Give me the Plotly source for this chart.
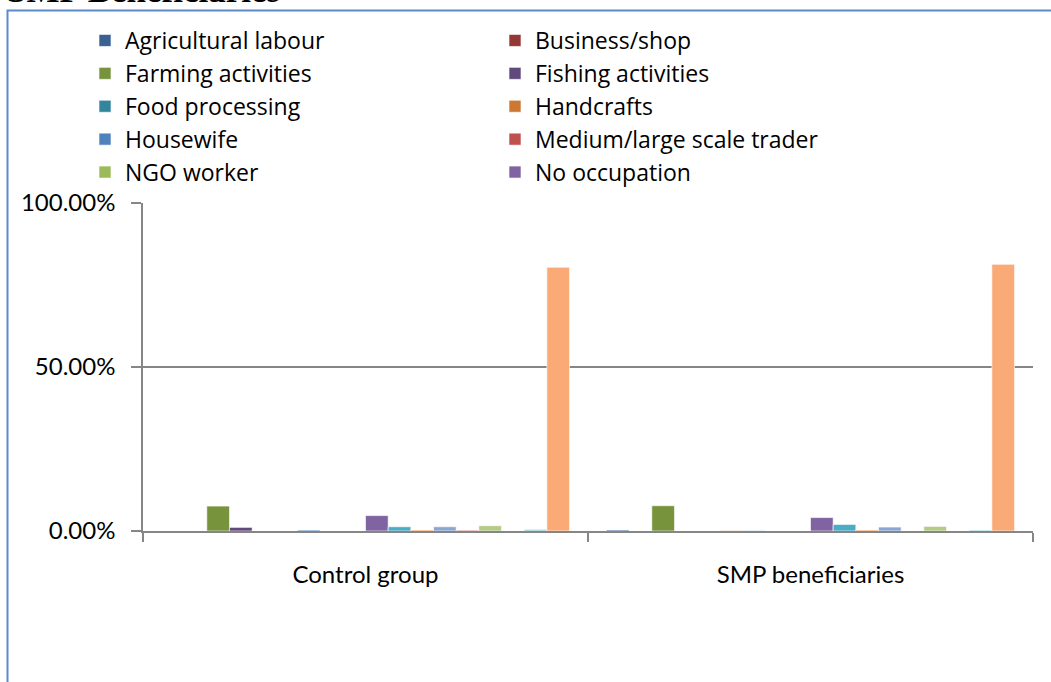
import plotly.graph_objects as go

categories = ["Control group", "SMP beneficiaries"]

series_names = [
    "Agricultural labour", "Business/shop", "Farming activities", "Fishing activities",
    "Food processing", "Handcrafts", "Housewife", "Medium/large scale trader",
    "NGO worker", "No occupation", "Petty trade", "Salaried employment",
    "Skilled labour", "Small scale trader", "Student", "Tailoring",
    "Unemployed", "Subsistence farming",
]

control_group = [0.0, 0.0, 7.6, 1.1, 0.0, 0.0, 0.3, 0.0, 0.0, 4.7,
                 1.3, 0.3, 1.3, 0.3, 1.6, 0.0, 0.5, 80.4]
smp_beneficiaries = [0.3, 0.0, 7.7, 0.0, 0.0, 0.1, 0.1, 0.0, 0.0, 4.1,
                     2.0, 0.3, 1.2, 0.0, 1.4, 0.0, 0.3, 81.3]

colors = [
    "#3B6192", "#953735", "#77933C", "#604A7B", "#31859C", "#CC7833",
    "#4F81BD", "#C0504D", "#9BBB59", "#8064A2", "#4BACC6", "#F79646",
    "#8AA7D4", "#D99694", "#B3CB85", "#B3A2C7", "#93CDDD", "#F9AA77",
]

FONT = "Lato, Carlito, Calibri, sans-serif"
LEG_FONT = "Open Sans, Lato, sans-serif"
GRID = "#868686"

fig = go.Figure()
for i, name in enumerate(series_names):
    fig.add_trace(go.Bar(
        x=categories,
        y=[control_group[i] / 100, smp_beneficiaries[i] / 100],
        name=name,
        marker=dict(color=colors[i], line=dict(color="rgba(255,255,255,0.6)", width=1)),
        showlegend=i < 10,
    ))

# plot area in px: x 143..1033, y 203..531
def px_x(p):
    return (p - 143) / 890.0

def px_y(p):
    return (531 - p) / 328.0

fig.update_layout(
    width=1051, height=682,
    margin=dict(l=143, r=18, t=203, b=151, autoexpand=False),
    paper_bgcolor="white", plot_bgcolor="white",
    barmode="group", bargap=0.083, bargroupgap=0,
    font=dict(family=FONT, size=24, color="black"),
    legend=dict(
        orientation="h", x=px_x(85), xanchor="left", y=px_y(19), yanchor="top",
        entrywidth=365, font=dict(family=LEG_FONT, size=23, color="black"),
        traceorder="normal", itemclick=False, bgcolor="rgba(0,0,0,0)",
        tracegroupgap=0,
    ),
    xaxis=dict(
        type="category", showline=True, linecolor=GRID, linewidth=1.5,
        ticks="outside", tickson="boundaries", ticklen=9, tickcolor=GRID, tickwidth=1.5,
        tickfont=dict(family=FONT, size=24, color="black"), ticklabelstandoff=21,
        showgrid=False, zeroline=False,
    ),
    yaxis=dict(
        range=[0, 1], tickvals=[0, 0.5, 1], tickformat=".2%",
        showline=True, linecolor=GRID, linewidth=1.5,
        ticks="outside", ticklen=10, tickcolor=GRID, tickwidth=1.5,
        tickfont=dict(family=FONT, size=24, color="black"), ticklabelstandoff=11,
        showgrid=True, gridcolor=GRID, gridwidth=1.5, zeroline=False,
    ),
    shapes=[dict(
        type="rect", xref="paper", yref="paper",
        x0=px_x(7.5), x1=px_x(1100), y0=px_y(10.5), y1=px_y(760),
        line=dict(color="#5B8BC9", width=2), fillcolor="rgba(0,0,0,0)", layer="below",
    )],
    annotations=[dict(
        text="<b>SMP Beneficiaries</b>", xref="paper", yref="paper",
        x=px_x(5), xanchor="left", y=px_y(12), yanchor="bottom", showarrow=False,
        font=dict(family="Liberation Serif, Times New Roman, serif", size=35, color="black"),
    )],
)

fig.write_html("out.html", config={"displayModeBar": False},
               post_script="document.body.style.margin='0';")
